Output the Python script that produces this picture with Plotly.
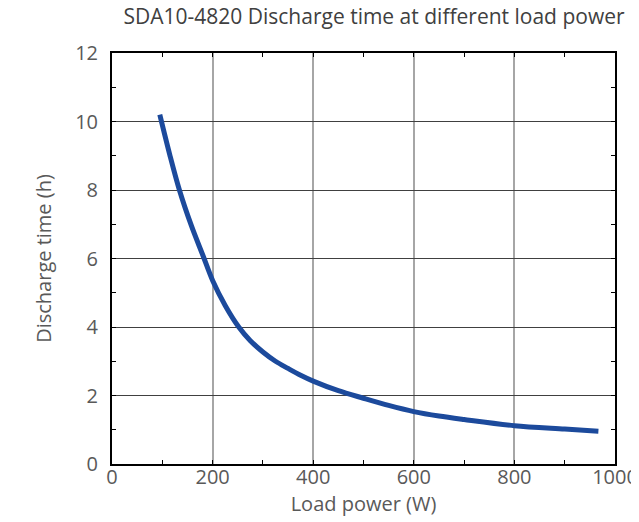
import plotly.graph_objects as go

power_w = [95, 115, 134, 158, 181, 200, 225, 252, 275, 300, 325, 350, 375, 400, 450, 500, 550, 600, 650, 700, 800, 900, 967]
time_h = [10.2, 9.02, 8.0, 6.95, 6.08, 5.36, 4.63, 4.0, 3.6, 3.27, 3.0, 2.79, 2.59, 2.42, 2.14, 1.92, 1.71, 1.53, 1.40, 1.30, 1.12, 1.02, 0.955]

title_text = "SDA10-4820 Discharge time at different load power"
x_title = "Load power (W)"
y_title = "Discharge time (h)"

FONT = "Open Sans, Noto Sans, sans-serif"
TXT = "#595959"

# page body has an 8px margin, so the figure is drawn 8px smaller
W, H = 631, 514

fig = go.Figure()
fig.add_trace(go.Scatter(
    x=power_w, y=time_h, mode="lines",
    line=dict(color="#1c4a9c", width=5, shape="spline", smoothing=0.9),
    showlegend=False, hoverinfo="skip",
))

fig.update_layout(
    width=W, height=H,
    margin=dict(l=104, r=24, t=45, b=58, autoexpand=False),
    paper_bgcolor="white", plot_bgcolor="white",
    font=dict(family=FONT, size=20, color=TXT),
    title=dict(text=title_text, x=366/W, xref="container", xanchor="center",
               y=1 - 1/H, yref="container", yanchor="top",
               font=dict(family=FONT, size=21, color="#404040")),
)
fig.update_xaxes(
    range=[0, 1000], dtick=200, tick0=0, automargin=False,
    showgrid=True, gridcolor="#a6a6a6", gridwidth=1.5,
    showline=True, linecolor="black", linewidth=2, mirror="ticks",
    ticks="inside", ticklen=4, tickcolor="black",
    minor=dict(dtick=100, ticks="inside", ticklen=4, tickcolor="black", showgrid=False),
    zeroline=False, ticklabelstandoff=-6,
    title=dict(text=x_title, standoff=0, font=dict(size=20, color=TXT)),
    tickfont=dict(size=20, color=TXT),
)
fig.update_yaxes(
    range=[0, 12], dtick=2, tick0=0, automargin=False,
    showgrid=True, gridcolor="#404040", gridwidth=1.2,
    showline=True, linecolor="black", linewidth=2, mirror="ticks",
    ticks="inside", ticklen=4, tickcolor="black",
    minor=dict(dtick=1, ticks="inside", ticklen=4, tickcolor="black", showgrid=False),
    zeroline=False, ticklabelstandoff=8,
    title=dict(text=y_title, standoff=18, font=dict(size=20, color=TXT)),
    tickfont=dict(size=20, color=TXT),
)

fig.write_html("out.html")
